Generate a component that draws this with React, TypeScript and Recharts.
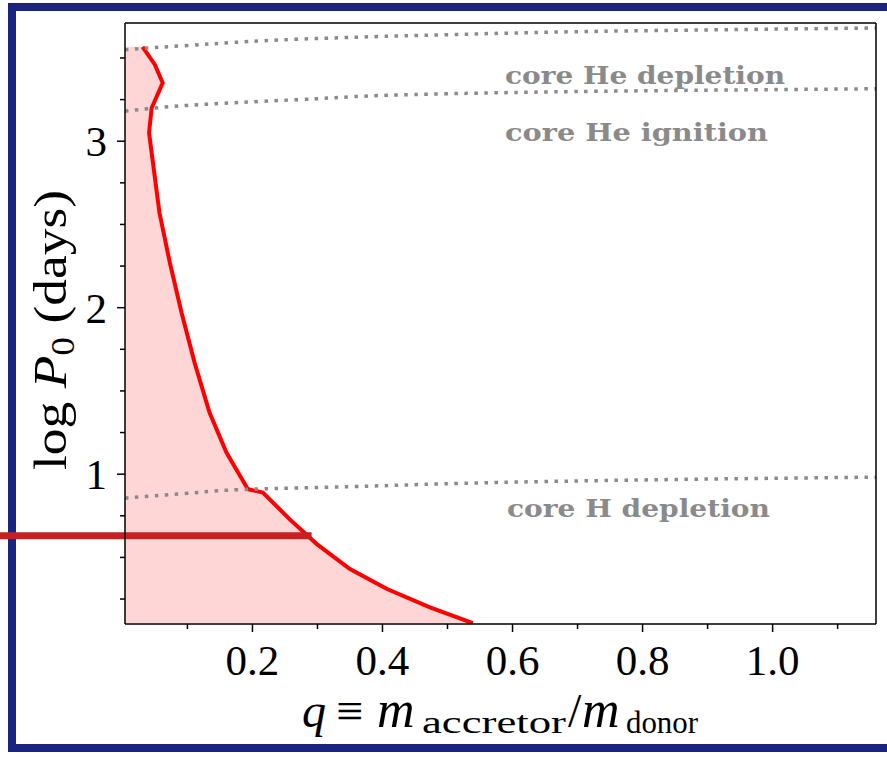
import React from "react";
import { ComposedChart, Area, Line, XAxis, YAxis, ReferenceLine } from "recharts";

// stability boundary (red curve)
const boundaryQ = [0.031, 0.05, 0.062, 0.045, 0.041, 0.047, 0.057, 0.073, 0.091, 0.111, 0.134, 0.16, 0.193, 0.216, 0.257, 0.299, 0.35, 0.407, 0.473, 0.539];
const boundaryLogP = [3.567, 3.46, 3.35, 3.2, 3.05, 2.87, 2.57, 2.27, 1.97, 1.67, 1.37, 1.13, 0.91, 0.89, 0.73, 0.58, 0.43, 0.31, 0.2, 0.105];

// evolutionary phase lines (grey dotted)
const heDepletionQ = [0.004, 0.1, 0.273, 0.5, 0.735, 1.16];
const heDepletionLogP = [3.55, 3.575, 3.613, 3.64, 3.66, 3.68];
const heIgnitionQ = [0.004, 0.1, 0.273, 0.5, 0.735, 1.16];
const heIgnitionLogP = [3.18, 3.215, 3.25, 3.285, 3.3, 3.315];
const hDepletionQ = [0.004, 0.1, 0.2, 0.35, 0.6, 0.85, 1.16];
const hDepletionLogP = [0.856, 0.885, 0.91, 0.925, 0.952, 0.968, 0.982];

// highlighted period
const markerLogP = 0.63;
const markerQ = [-0.19, 0.291];

const xMajor = [0.2, 0.4, 0.6, 0.8, 1.0];
const xMinor = [0.1, 0.3, 0.5, 0.7, 0.9, 1.1];
const yMajor = [1, 2, 3];
const yMinor = [0.25, 0.5, 0.75, 1.25, 1.5, 1.75, 2.25, 2.5, 2.75, 3.25, 3.5];

const xDomain = [0.004, 1.159];
const yDomain = [0.1, 3.71];

const toRows = (q: number[], p: number[]) => q.map((v, i) => ({ q: v, logP: p[i] }));

const boundary = toRows(boundaryQ, boundaryLogP);
const heDepletion = toRows(heDepletionQ, heDepletionLogP);
const heIgnition = toRows(heIgnitionQ, heIgnitionLogP);
const hDepletion = toRows(hDepletionQ, hDepletionLogP);

const serif = "'Liberation Serif', 'DejaVu Serif', serif";
const grey = "#8a8a8a";

const xTicks = [...xMajor, ...xMinor].sort((a, b) => a - b);
const yTicks = [...yMajor, ...yMinor].sort((a, b) => a - b);

const BottomTick = (props: any) => {
  const { x, y, payload } = props;
  const major = xMajor.includes(payload.value);
  return (
    <g>
      <line x1={x} x2={x} y1={y} y2={y + (major ? 8 : 5)} stroke="#000" strokeWidth={1.5} />
      {major && (
        <text x={x} y={y + 51} textAnchor="middle" fontFamily={serif} fontSize={43} fill="#000">
          {payload.value.toFixed(1)}
        </text>
      )}
    </g>
  );
};

const LeftTick = (props: any) => {
  const { x, y, payload } = props;
  const major = yMajor.includes(payload.value);
  return (
    <g>
      <line x1={x - (major ? 8 : 5)} x2={x} y1={y} y2={y} stroke="#000" strokeWidth={1.5} />
      {major && (
        <text x={x - 18} y={y + 15} textAnchor="end" fontFamily={serif} fontSize={43} fill="#000">
          {String(payload.value)}
        </text>
      )}
    </g>
  );
};

const RightTick = (props: any) => {
  const { x, y, payload } = props;
  const major = yMajor.includes(payload.value);
  return <line x1={x} x2={x + (major ? 8 : 5)} y1={y} y2={y} stroke="#000" strokeWidth={1.5} />;
};

export default function App() {
  return (
    <div style={{ position: "fixed", left: 0, top: 0, width: 887, height: 757, overflow: "hidden", background: "#fff" }}>
      <div
        style={{
          position: "absolute",
          left: 8,
          top: 3,
          width: 900,
          height: 749,
          boxSizing: "border-box",
          border: "8px solid #1a237e",
        }}
      />
      <div style={{ position: "absolute", left: 0, top: 0 }}>
        <ComposedChart width={887} height={757} layout="vertical" margin={{ top: 0, right: 0, bottom: 0, left: 0 }}>
          <XAxis
            xAxisId="bottom"
            type="number"
            dataKey="q"
            orientation="bottom"
            domain={xDomain}
            allowDataOverflow
            ticks={xTicks}
            interval={0}
            height={133}
            tickSize={0}
            tickMargin={0}
            tickLine={false}
            tick={<BottomTick />}
            axisLine={{ stroke: "#000", strokeWidth: 1.5 }}
          />
          <XAxis
            xAxisId="top"
            type="number"
            orientation="top"
            domain={xDomain}
            allowDataOverflow
            height={23}
            tick={false}
            tickLine={false}
            axisLine={{ stroke: "#000", strokeWidth: 1.5 }}
          />
          <YAxis
            yAxisId="left"
            type="number"
            dataKey="logP"
            orientation="left"
            reversed
            domain={yDomain}
            allowDataOverflow
            ticks={yTicks}
            interval={0}
            width={125}
            tickSize={0}
            tickMargin={0}
            tickLine={false}
            tick={<LeftTick />}
            axisLine={{ stroke: "#000", strokeWidth: 1.5 }}
          />
          <YAxis
            yAxisId="right"
            type="number"
            orientation="right"
            reversed
            domain={yDomain}
            allowDataOverflow
            ticks={yTicks}
            interval={0}
            width={11}
            tickSize={0}
            tickMargin={0}
            tickLine={false}
            tick={<RightTick />}
            axisLine={{ stroke: "#000", strokeWidth: 1.5 }}
          />

          <Area
            xAxisId="bottom"
            yAxisId="left"
            data={boundary}
            dataKey="q"
            type="linear"
            stroke="#ff0000"
            strokeWidth={4}
            fill="#ff0000"
            fillOpacity={0.16}
            isAnimationActive={false}
            dot={false}
            activeDot={false}
          />
          {[heDepletion, heIgnition, hDepletion].map((d, i) => (
            <Line
              key={i}
              xAxisId="bottom"
              yAxisId="left"
              data={d}
              dataKey="q"
              type="monotone"
              stroke={grey}
              strokeWidth={3.5}
              strokeDasharray="3.5 6.5"
              dot={false}
              activeDot={false}
              isAnimationActive={false}
            />
          ))}
          <ReferenceLine
            xAxisId="bottom"
            yAxisId="left"
            segment={[
              { x: markerQ[0], y: markerLogP },
              { x: markerQ[1], y: markerLogP },
            ]}
            stroke="#c62020"
            strokeWidth={7}
            ifOverflow="visible"
          />

          <g fontFamily="'DejaVu Serif', serif" fontWeight="bold" fontSize={24} fill={grey}>
            <text x={505} y={84} textLength={280} lengthAdjust="spacingAndGlyphs">core He depletion</text>
            <text x={505} y={141} textLength={263} lengthAdjust="spacingAndGlyphs">core He ignition</text>
            <text x={507} y={517} textLength={263} lengthAdjust="spacingAndGlyphs">core H depletion</text>
          </g>

          <text x={66} y={330} transform="rotate(-90 66 330)" textAnchor="middle" fontFamily={serif} fontSize={47} fill="#000" textLength={280} lengthAdjust="spacingAndGlyphs">
            <tspan>log </tspan>
            <tspan fontStyle="italic">P</tspan>
            <tspan fontSize={33} dy={8}>0</tspan>
            <tspan dy={-8}> (days)</tspan>
          </text>

          <text y={727} fontFamily={serif} fontSize={48} fill="#000">
            <tspan x={302} fontStyle="italic">q</tspan>
            <tspan x={336}>≡</tspan>
            <tspan x={377} fontStyle="italic" fontSize={52}>m</tspan>
            <tspan x={422} dy={6} fontSize={32} textLength={144} lengthAdjust="spacingAndGlyphs">accretor</tspan>
            <tspan x={568} dy={-6}>/</tspan>
            <tspan x={582} fontStyle="italic" fontSize={52}>m</tspan>
            <tspan x={626} dy={6} fontSize={32} textLength={72} lengthAdjust="spacingAndGlyphs">donor</tspan>
          </text>
        </ComposedChart>
      </div>
    </div>
  );
}
